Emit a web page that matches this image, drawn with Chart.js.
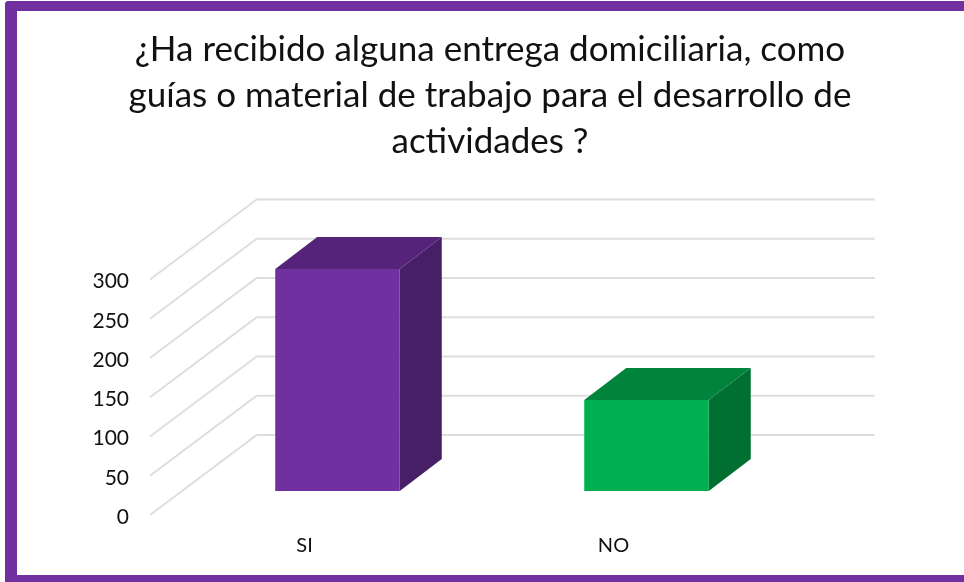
<!DOCTYPE html>
<html>
<head>
<meta charset="utf-8">
<style>
  html, body { margin: 0; padding: 0; background: #fff; overflow: hidden; }
  #frame { position: absolute; left: 5px; top: 1px; width: 947px; height: 564px; border: solid #7030a0; border-width: 10px 0 7px 12px; border-top-left-radius: 4px; }
  #chart { position: absolute; left: 0; top: 0; }
</style>
<script src="https://cdn.jsdelivr.net/npm/chart.js@4/dist/chart.umd.min.js"></script>
</head>
<body>
<div id="frame"></div>
<canvas id="chart" width="964" height="582"></canvas>
<script>
const titleLines = [
  '¿Ha recibido alguna entrega domiciliaria, como',
  'guías o material de trabajo para el desarrollo de',
  'actividades ?'
];
const categories = ['SI', 'NO'];
const values = [283, 116];
const frontColors = ['#7030a0', '#00b050'];
const topColors = ['#55247a', '#00843c'];
const sideColors = ['#471f66', '#006f31'];
const yTicks = [0, 50, 100, 150, 200, 250, 300];

const wallDepth = { x: 106.7, y: 80 };   // front plane to back wall
const barStart = { x: 33, y: 24 };       // front plane to bar front face
const barDepth = { x: 42, y: 32 };       // bar front face to bar back face

function fillPoly(ctx, color, pts) {
  ctx.fillStyle = color;
  ctx.beginPath();
  pts.forEach((p, i) => i ? ctx.lineTo(p[0], p[1]) : ctx.moveTo(p[0], p[1]));
  ctx.closePath();
  ctx.fill();
}

// the perspective walls and bar sides Chart.js has no element for
const box3d = {
  id: 'box3d',
  beforeDraw(chart) {
    // y labels sit a little under their gridline ends in the original
    chart.scales.y.getLabelItems(chart.chartArea).forEach(item => { item.options.translation[1] += 2; });
  },
  beforeDatasetsDraw(chart) {
    const { ctx, chartArea, scales } = chart;
    ctx.save();
    ctx.strokeStyle = '#dedede';
    ctx.lineWidth = 2;
    yTicks.forEach(v => {
      const y = scales.y.getPixelForValue(v);
      ctx.beginPath();
      ctx.moveTo(chartArea.left, y);
      ctx.lineTo(chartArea.left + wallDepth.x, y - wallDepth.y);
      ctx.lineTo(chartArea.right + wallDepth.x, y - wallDepth.y);
      ctx.stroke();
    });
    ctx.restore();

    // bars sit part way into the floor
    ctx.save();
    ctx.translate(barStart.x, -barStart.y);
    chart.getDatasetMeta(0).data.forEach((bar, i) => {
      const { x, y, base, width } = bar.getProps(['x', 'y', 'base', 'width']);
      const r = x + width / 2, l = x - width / 2;
      const dx = barDepth.x, dy = barDepth.y;
      fillPoly(ctx, sideColors[i], [[r, y], [r + dx, y - dy], [r + dx, base - dy], [r, base]]);
      fillPoly(ctx, topColors[i], [[l, y], [l + dx, y - dy], [r + dx, y - dy], [r, y]]);
    });
  },
  afterDatasetsDraw(chart) {
    chart.ctx.restore();
  }
};

new Chart(document.getElementById('chart'), {
  type: 'bar',
  data: {
    labels: categories,
    datasets: [{ data: values, backgroundColor: frontColors, borderWidth: 0 }]
  },
  plugins: [box3d],
  options: {
    responsive: false,
    animation: false,
    layout: { padding: { left: 16 } },
    datasets: { bar: { barPercentage: 0.403, categoryPercentage: 1 } },
    plugins: {
      legend: { display: false },
      tooltip: { enabled: false },
      title: {
        display: true,
        text: titleLines,
        color: '#111',
        font: { family: 'Lato', size: 35, weight: 'normal', lineHeight: 1.31 },
        padding: { top: 27, bottom: 115 }
      }
    },
    scales: {
      x: {
        grid: { display: false },
        border: { display: false },
        ticks: { color: '#111', font: { family: 'Lato', size: 20 }, padding: 11 },
        afterFit(s) { s.height = 67; }
      },
      y: {
        min: 0,
        max: 300,
        afterBuildTicks(s) { s.ticks = yTicks.map(v => ({ value: v })); },
        grid: { display: false },
        border: { display: false },
        ticks: { color: '#111', font: { family: 'Lato', size: 21 }, padding: 13 },
        afterFit(s) { s.width = 134; }
      },
      // empty axis holding the room the back wall needs on the right
      wall: {
        position: 'right',
        grid: { display: false },
        border: { display: false },
        ticks: { display: false },
        afterFit(s) { s.width = 196; }
      }
    }
  }
});
</script>
</body>
</html>
